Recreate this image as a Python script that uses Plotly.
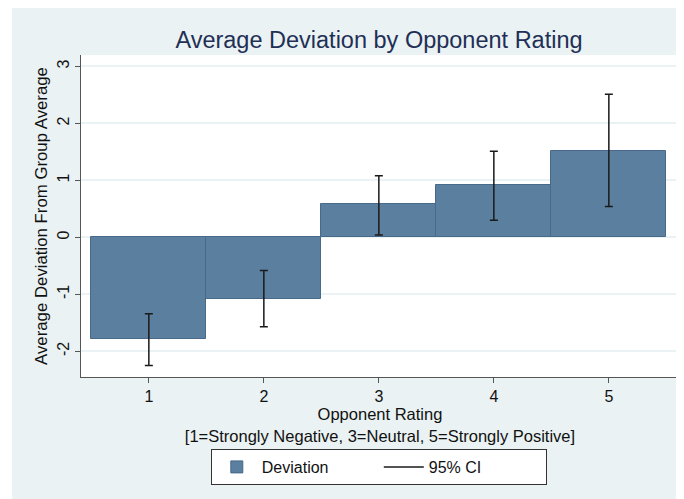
import plotly.graph_objects as go

ratings = [1, 2, 3, 4, 5]
deviation = [-1.79, -1.08, 0.58, 0.92, 1.52]
ci_upper = [-1.34, -0.58, 1.08, 1.51, 2.51]
ci_lower = [-2.25, -1.57, 0.04, 0.30, 0.54]
x_ticks = [1, 2, 3, 4, 5]
y_ticks = [-2, -1, 0, 1, 2, 3]

FONT = "Liberation Sans, Arial, Helvetica, sans-serif"
BAR_FILL = "#5a7f9f"
BAR_LINE = "#48698a"
BG = "#eaf2f3"

fig = go.Figure()

fig.add_trace(go.Bar(
    x=ratings, y=deviation, width=1.0, name="Deviation",
    marker=dict(color=BAR_FILL, line=dict(color=BAR_LINE, width=1)),
    hoverinfo="skip",
))

plus = [u - m for u, m in zip(ci_upper, deviation)]
minus = [m - l for m, l in zip(deviation, ci_lower)]
fig.add_trace(go.Scatter(
    x=ratings, y=deviation, mode="markers", showlegend=False,
    marker=dict(size=1, opacity=0),
    error_y=dict(type="data", symmetric=False, array=plus, arrayminus=minus,
                 color="#1a1a1a", thickness=1.5, width=4),
    hoverinfo="skip",
))
# legend entry for the CI
fig.add_trace(go.Scatter(
    x=[None], y=[None], mode="lines", name="95% CI",
    line=dict(color="#1a1a1a", width=1.5),
))

# page body adds an 8px margin, so the figure is 8px smaller than the window
W, H = 676, 491
L, R, T, B = 73, 5, 47, 122
pw, ph = W - L - R, H - T - B

# thin white strip at the left edge of the graph region
fig.add_shape(type="rect", xref="paper", yref="paper", layer="below",
              x0=-L / pw, x1=(4 - L) / pw, y0=-B / ph, y1=(H - B) / ph,
              fillcolor="white", line=dict(width=0))

fig.update_layout(
    width=W, height=H,
    margin=dict(l=L, r=R, t=T, b=B, autoexpand=False),
    paper_bgcolor=BG,
    plot_bgcolor="white",
    font=dict(family=FONT, size=15, color="#111111"),
    title=dict(text="Average Deviation by Opponent Rating",
               x=371 / W, xanchor="center", y=1 - 32 / H, yanchor="middle",
               font=dict(size=23.5, color="#1f2f56", family=FONT)),
    showlegend=True,
    legend=dict(orientation="h", x=0.498, xanchor="center",
                y=-(441 - (H - B)) / ph, yanchor="top",
                bgcolor="white", bordercolor="#333333", borderwidth=1,
                font=dict(size=16, color="#111111"),
                itemwidth=40, traceorder="normal", entrywidth=112,
                tracegroupgap=0),
    bargap=0,
)

fig.update_xaxes(
    automargin=False,
    range=[0.41, 5.61], tickvals=x_ticks, ticktext=[str(v) for v in x_ticks],
    showgrid=False, zeroline=False,
    showline=True, linecolor="#555555", linewidth=1,
    ticks="outside", ticklen=5, tickcolor="#555555",
    tickfont=dict(size=16),
    title=dict(text="Opponent Rating<br>[1=Strongly Negative, 3=Neutral, 5=Strongly Positive]",
               font=dict(size=16.5), standoff=1),
)
fig.update_yaxes(
    automargin=False,
    range=[-2.45, 3.2], tickvals=y_ticks, ticktext=[str(v) for v in y_ticks],
    tickangle=-90,
    showgrid=True, gridcolor=BG, gridwidth=1.5, zeroline=False,
    showline=True, linecolor="#555555", linewidth=1,
    ticks="outside", ticklen=5, tickcolor="#555555",
    tickfont=dict(size=16),
    title=dict(text="Average Deviation From Group Average", font=dict(size=16.8), standoff=2),
)

fig.write_html("out.html")
